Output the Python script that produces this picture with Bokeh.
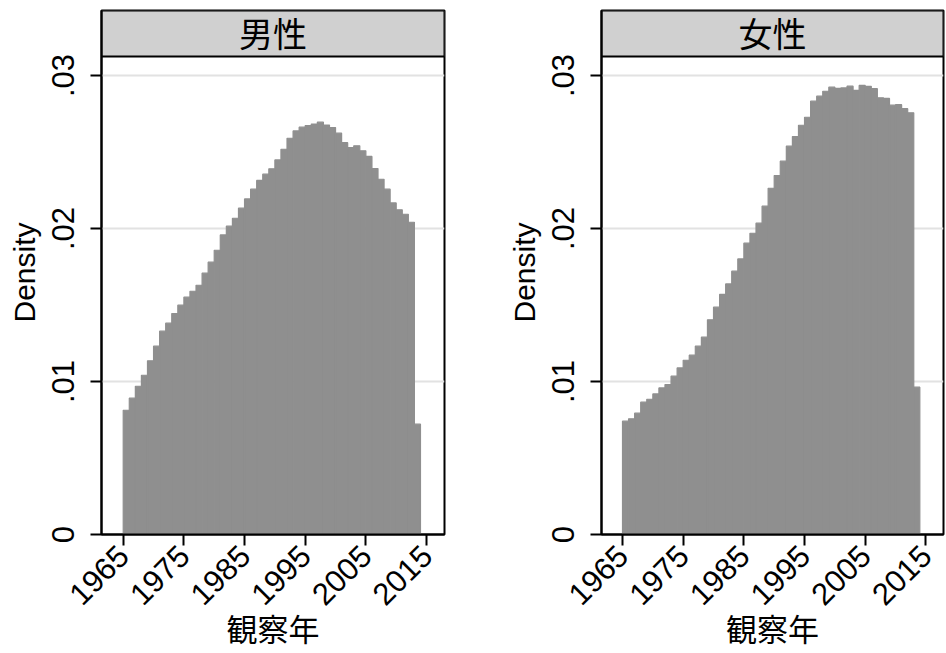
from bokeh.plotting import figure
from bokeh.layouts import row
from bokeh.models import FixedTicker, CustomJSTickFormatter, Range1d
from bokeh.core.properties import value
from bokeh.embed import file_html
from bokeh.resources import INLINE
import math

years = list(range(1965, 2014))
male_density = [
    0.00812, 0.00891, 0.00969, 0.01041, 0.01135, 0.01231, 0.01329, 0.01381, 0.01444, 0.01499,
    0.01551, 0.01590, 0.01629, 0.01708, 0.01780, 0.01858, 0.01958, 0.02015, 0.02067, 0.02133,
    0.02193, 0.02257, 0.02314, 0.02355, 0.02390, 0.02448, 0.02518, 0.02590, 0.02638, 0.02662,
    0.02673, 0.02683, 0.02695, 0.02676, 0.02660, 0.02623, 0.02561, 0.02529, 0.02541, 0.02508,
    0.02471, 0.02392, 0.02322, 0.02257, 0.02167, 0.02122, 0.02093, 0.02041, 0.00721,
]
female_density = [
    0.00741, 0.00756, 0.00793, 0.00865, 0.00884, 0.00919, 0.00958, 0.00980, 0.01035, 0.01089,
    0.01139, 0.01172, 0.01231, 0.01290, 0.01403, 0.01486, 0.01569, 0.01638, 0.01721, 0.01801,
    0.01904, 0.01969, 0.02035, 0.02146, 0.02263, 0.02346, 0.02440, 0.02538, 0.02601, 0.02675,
    0.02727, 0.02832, 0.02865, 0.02897, 0.02924, 0.02916, 0.02919, 0.02930, 0.02903, 0.02935,
    0.02929, 0.02914, 0.02854, 0.02850, 0.02806, 0.02809, 0.02783, 0.02756, 0.00963,
]
panel_titles = ["男性", "女性"]
x_ticks = [1965, 1975, 1985, 1995, 2005, 2015]
y_ticks = [0, 0.01, 0.02, 0.03]
y_tick_labels = ["0", ".01", ".02", ".03"]
x_label = "観察年"
y_label = "Density"

BAR = "#8f8f8f"
STRIP = "#d0d0d0"
GRID = "#e2e2e2"
FRAME_H = 524
PX = 15300.0
Y_TOP = FRAME_H / PX
STRIP_BOTTOM = 478 / PX
TITLE_Y = (FRAME_H - 22) / PX
LATIN = "Liberation Sans"
CJK = "Noto Sans CJK JP"


def make_panel(title, dens, x_start, x_end, fw, ml, mr):
    p = figure(frame_width=fw, frame_height=FRAME_H,
               x_range=Range1d(x_start, x_end), y_range=Range1d(0, Y_TOP),
               output_backend="svg", toolbar_location=None,
               min_border_left=ml, min_border_right=mr,
               min_border_top=10, min_border_bottom=112)
    p.background_fill_color = "white"
    p.border_fill_color = "white"
    p.outline_line_color = "black"
    p.outline_line_width = 2

    p.quad(left=years, right=[y + 1 for y in years], bottom=0, top=dens,
           fill_color=BAR, line_color=BAR, line_width=1.2)
    p.quad(left=[x_start], right=[x_end], bottom=[STRIP_BOTTOM], top=[Y_TOP],
           fill_color=STRIP, line_color="black", line_width=2)
    p.text(x=[(x_start + x_end) / 2], y=[TITLE_Y], text=[title],
           text_align="center", text_baseline="middle",
           text_font=value(CJK), text_font_size="34px", text_color="black")

    p.xgrid.visible = False
    p.ygrid.ticker = FixedTicker(ticks=[t for t in y_ticks if t > 0])
    p.ygrid.grid_line_color = GRID
    p.ygrid.grid_line_width = 2

    p.xaxis.ticker = FixedTicker(ticks=x_ticks)
    p.xaxis.major_label_orientation = math.pi / 4
    p.xaxis.axis_label = x_label
    p.xaxis.axis_label_text_font = CJK
    p.xaxis.axis_label_text_font_style = "normal"
    p.xaxis.axis_label_text_font_size = "31px"
    p.xaxis.axis_label_standoff = -13
    p.xaxis.major_label_standoff = 5

    p.yaxis.ticker = FixedTicker(ticks=y_ticks)
    p.yaxis.formatter = CustomJSTickFormatter(
        args=dict(vals=y_ticks, labels=y_tick_labels),
        code="for (let i = 0; i < vals.length; i++) { if (Math.abs(vals[i] - tick) < 1e-9) return labels[i]; } return '';")
    p.yaxis.major_label_orientation = "vertical"
    p.yaxis.major_label_standoff = 17
    p.yaxis.axis_label = y_label
    p.yaxis.axis_label_text_font = LATIN
    p.yaxis.axis_label_text_font_style = "normal"
    p.yaxis.axis_label_text_font_size = "30px"
    p.yaxis.axis_label_standoff = 8

    for ax in (p.xaxis, p.yaxis):
        ax.major_label_text_font = LATIN
        ax.major_label_text_font_size = "31px"
        ax.major_label_text_color = "black"
        ax.axis_label_text_color = "black"
        ax.axis_line_color = "black"
        ax.axis_line_width = 2
        ax.major_tick_line_color = "black"
        ax.major_tick_line_width = 2
        ax.major_tick_out = 11
        ax.major_tick_in = 0
        ax.minor_tick_line_color = None
    return p


p1 = make_panel(panel_titles[0], male_density, 1961.42, 2017.96, 343, 101, 56)
p2 = make_panel(panel_titles[1], female_density, 1961.54, 2017.9, 342, 101, 2)
layout = row(p1, p2)

open("out.html", "w").write(file_html(layout, INLINE))
